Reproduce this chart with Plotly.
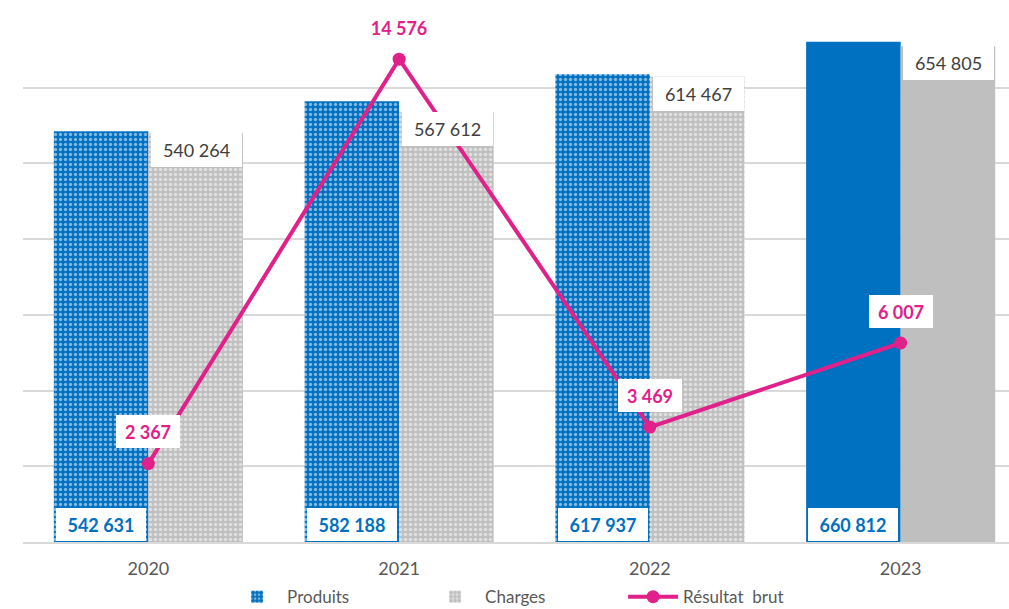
import plotly.graph_objects as go

years = ["2020", "2021", "2022", "2023"]
produits = [542631, 582188, 617937, 660812]
charges = [540264, 567612, 614467, 654805]
resultat = [2367, 14576, 3469, 6007]

BLUE = "#0070C0"
GRAY = "#BFBFBF"
MAG = "#E0218A"
FONT = "Lato"

def fmt(v):
    return f"{v:,}".replace(",", " ")

xs = list(range(len(years)))
BW = 0.377

fig = go.Figure()
fig.add_trace(go.Bar(
    x=xs, y=produits, name="Produits", width=BW, offset=-BW,
    marker=dict(color=BLUE, line=dict(width=0),
                pattern=dict(shape=[".", ".", ".", ""], fgcolor="white",
                             bgcolor=BLUE, fillmode="overlay",
                             size=5, solidity=0.35)),
    hoverinfo="skip",
))
fig.add_trace(go.Bar(
    x=xs, y=charges, name="Charges", width=BW, offset=0,
    marker=dict(color=GRAY, line=dict(width=0),
                pattern=dict(shape=[".", ".", ".", ""], fgcolor="white",
                             bgcolor=GRAY, fillmode="overlay",
                             size=5, solidity=0.4)),
    hoverinfo="skip",
))
fig.add_trace(go.Scatter(
    x=xs, y=resultat, name="Résultat  brut", yaxis="y2", mode="lines+markers",
    line=dict(color=MAG, width=4), marker=dict(color=MAG, size=13),
    hoverinfo="skip",
))

ann = []
for i in xs:
    ann.append(dict(x=i - BW / 2, y=0, xref="x", yref="y", yanchor="bottom",
                    text=f"<b>{fmt(produits[i])}</b>", showarrow=False,
                    font=dict(family=FONT, size=18, color=BLUE),
                    bgcolor="white", width=90, height=33, borderpad=0, borderwidth=0,
                    yshift=1))
    ann.append(dict(x=i + BW / 2, y=charges[i], xref="x", yref="y", yanchor="top",
                    text=fmt(charges[i]), showarrow=False,
                    font=dict(family=FONT, size=18, color="#404040"),
                    bgcolor="white", width=91, height=34, borderpad=0, borderwidth=0,
                    xshift=1))
    ann.append(dict(x=i, y=resultat[i], xref="x", yref="y2", yanchor="middle",
                    text=f"<b>{fmt(resultat[i])}</b>", showarrow=False,
                    font=dict(family=FONT, size=18, color=MAG),
                    bgcolor="white", width=64, height=33, borderpad=0, borderwidth=0,
                    yshift=32))

fig.update_layout(
    width=1009, height=609,
    margin=dict(l=23, r=0, t=12, b=67, autoexpand=False),
    paper_bgcolor="white", plot_bgcolor="white",
    barmode="overlay",
    font=dict(family=FONT, size=18, color="#595959"),
    xaxis=dict(tickmode="array", tickvals=xs, ticktext=years, range=[-0.5, 3.432],
               showgrid=False, zeroline=False, showline=True, linecolor="#D9D9D9",
               linewidth=1.5, ticks="", ticklabelstandoff=10,
               tickfont=dict(family=FONT, size=18, color="#595959")),
    yaxis=dict(range=[0, 700000], dtick=100000, showgrid=True, gridcolor="#D9D9D9",
               gridwidth=1.5, showticklabels=False, zeroline=False, ticks=""),
    yaxis2=dict(range=[0, 16000], overlaying="y", side="right", visible=False,
                showgrid=False),
    legend=dict(orientation="h", x=0.207, xanchor="left", y=-0.104, yanchor="middle",
                font=dict(family=FONT, size=17, color="#595959"), entrywidth=133,
                itemwidth=50),
    annotations=ann,
    showlegend=True,
)

fig.write_html("out.html", config={"displayModeBar": False},
               post_script="document.body.style.margin='0';document.body.style.overflow='hidden';")
